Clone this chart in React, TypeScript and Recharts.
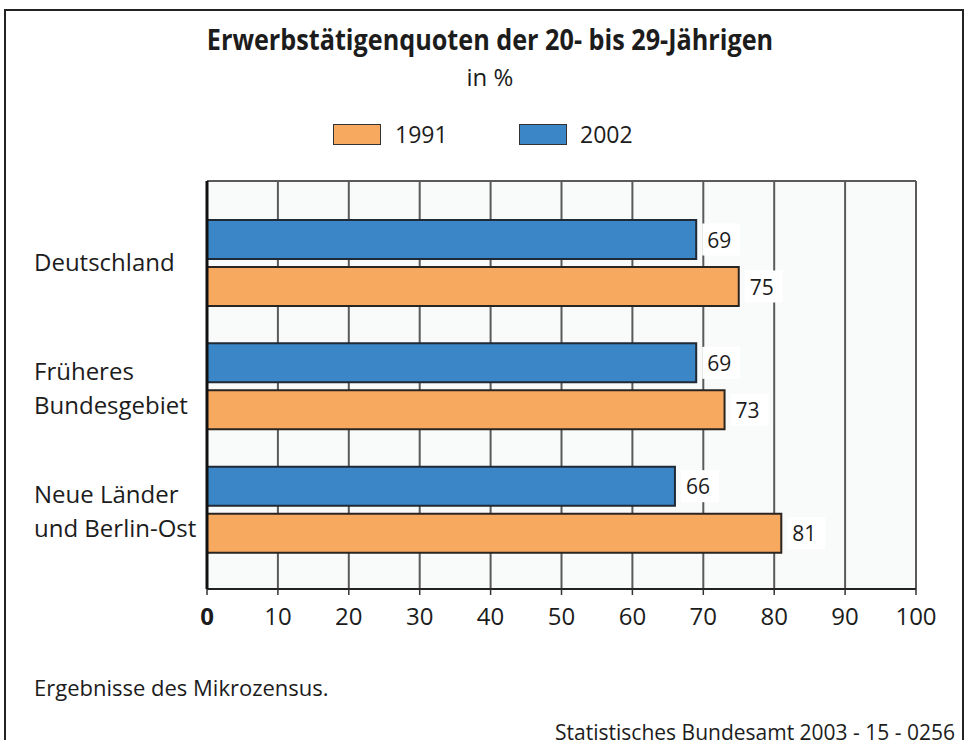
import { BarChart, Bar, XAxis, YAxis, CartesianGrid, LabelList } from 'recharts';

const categories = ['Deutschland', 'Früheres\nBundesgebiet', 'Neue Länder\nund Berlin-Ost'];
const values1991 = [75, 73, 81];
const values2002 = [69, 69, 66];
const xTicks = [0, 10, 20, 30, 40, 50, 60, 70, 80, 90, 100];

const data = categories.map((name, i) => ({ name, y1991: values1991[i], y2002: values2002[i] }));

const FONT = '"Open Sans", "DejaVu Sans", sans-serif';
const INK = '#1c1c1c';

function CategoryTick({ y, payload }: any) {
  const lines = String(payload.value).split('\n');
  const n = lines.length;
  return (
    <g>
      {lines.map((line, i) => (
        <text
          key={i}
          x={34}
          y={y + 8 + (i - (n - 1) / 2) * 34 + (n > 1 ? 3 : 0)}
          fontSize={24}
          fontFamily={FONT}
          fill={INK}
        >
          {line}
        </text>
      ))}
    </g>
  );
}

function ValueTick({ x, y, payload }: any) {
  return (
    <text x={x} y={y + 28} textAnchor="middle" fontSize={24} fontFamily={FONT} fill={INK}
      fontWeight={payload.value === 0 ? 700 : 400}>
      {payload.value}
    </text>
  );
}

function ValueLabel({ x, y, width, height, value }: any) {
  const left = x + width + 6;
  const cy = y + height / 2;
  return (
    <g>
      <rect x={left} y={cy - 16} width={38} height={32} fill="#ffffff" />
      <text x={left + 5} y={cy + 8} fontSize={21} fontFamily={FONT} fill={INK}>
        {value}
      </text>
    </g>
  );
}

export default function App() {
  return (
    <div style={{ position: 'absolute', left: 0, top: 0, width: 966, height: 740, overflow: 'hidden', background: '#fff', fontFamily: FONT, color: INK }}>
      <div style={{ position: 'absolute', left: 4, top: 9, width: 956, height: 800, border: '2px solid #222' }} />

      <div style={{ position: 'absolute', left: 0, width: 980, top: 20, textAlign: 'center', fontSize: 28, fontWeight: 700, transform: 'scaleX(0.9)', whiteSpace: 'nowrap' }}>
        Erwerbstätigenquoten der 20- bis 29-Jährigen
      </div>
      <div style={{ position: 'absolute', left: 0, width: 980, top: 60, textAlign: 'center', fontSize: 24 }}>in %</div>

      <div style={{ position: 'absolute', left: 333, top: 124, width: 46, height: 19, background: '#f8a960', border: '1.5px solid #333' }} />
      <div style={{ position: 'absolute', left: 395, top: 119, fontSize: 23, lineHeight: '30px' }}>1991</div>
      <div style={{ position: 'absolute', left: 519, top: 124, width: 46, height: 19, background: '#3b86c6', border: '1.5px solid #333' }} />
      <div style={{ position: 'absolute', left: 580, top: 119, fontSize: 23, lineHeight: '30px' }}>2002</div>

      <div style={{ position: 'absolute', left: 0, top: 0 }}>
        <BarChart
          width={966}
          height={740}
          data={data}
          layout="vertical"
          margin={{ top: 181, right: 50, bottom: 111, left: 0 }}
          barSize={39}
          barGap={8}
        >
          <CartesianGrid
            fill="#f9fafa"
            stroke="#5a5a5a"
            strokeWidth={2}
            horizontal={true}
            horizontalCoordinatesGenerator={(props: any) => [props.offset.top]}
          />
          <XAxis
            type="number"
            domain={[0, 100]}
            ticks={xTicks}
            interval={0}
            tickSize={6}
            tickLine={{ stroke: '#333', strokeWidth: 1.5 }}
            axisLine={{ stroke: '#222', strokeWidth: 2 }}
            tick={<ValueTick />}
            height={40}
          />
          <YAxis
            type="category"
            dataKey="name"
            width={207}
            tickLine={false}
            axisLine={{ stroke: '#111', strokeWidth: 3 }}
            padding={{ top: 20, bottom: 18 }}
            tick={<CategoryTick />}
            interval={0}
          />
          <Bar dataKey="y2002" fill="#3b86c6" stroke="#1f2a36" strokeWidth={2} isAnimationActive={false}>
            <LabelList dataKey="y2002" content={<ValueLabel />} />
          </Bar>
          <Bar dataKey="y1991" fill="#f8a960" stroke="#2a2520" strokeWidth={2} isAnimationActive={false}>
            <LabelList dataKey="y1991" content={<ValueLabel />} />
          </Bar>
        </BarChart>
      </div>

      <div style={{ position: 'absolute', left: 34, top: 672, fontSize: 22 }}>Ergebnisse des Mikrozensus.</div>
      <div style={{ position: 'absolute', right: 11, top: 718, fontSize: 21 }}>Statistisches Bundesamt 2003 - 15 - 0256</div>
    </div>
  );
}
